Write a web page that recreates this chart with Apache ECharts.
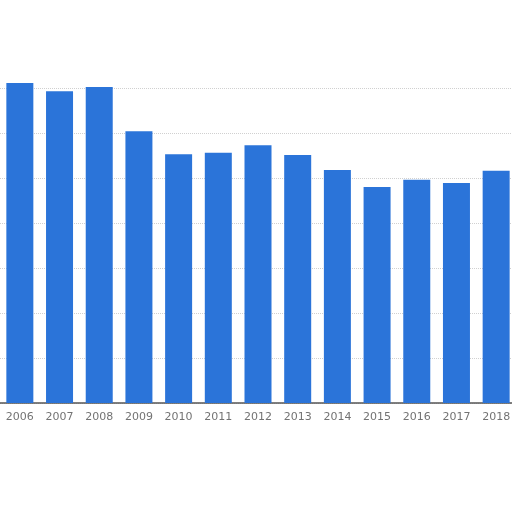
<!DOCTYPE html>
<html>
<head>
<meta charset="utf-8">
<script src="https://cdn.jsdelivr.net/npm/echarts@6/dist/echarts.min.js"></script>
<style>html,body{margin:0;padding:0;background:#fff;overflow:hidden;width:512px;height:512px}#c{width:520px;height:512px}</style>
</head>
<body>
<div id="c"></div>
<script>
const years = ['2006','2007','2008','2009','2010','2011','2012','2013','2014','2015','2016','2017','2018'];
const values = [7.11, 6.93, 7.02, 6.04, 5.53, 5.56, 5.73, 5.51, 5.18, 4.80, 4.96, 4.89, 5.16];

const chart = echarts.init(document.getElementById('c'));
chart.setOption({
  animation: false,
  backgroundColor: '#ffffff',
  grid: { left: 0, right: 4, top: 88, bottom: 109, containLabel: false },
  xAxis: {
    type: 'category',
    data: years,
    axisLine: { show: true, lineStyle: { color: '#555', width: 1.5 } },
    axisTick: { show: false },
    axisLabel: { color: '#737373', fontSize: 11, margin: 9, fontFamily: 'DejaVu Sans', interval: 0 }
  },
  yAxis: {
    type: 'value',
    min: 0,
    max: 7,
    interval: 1,
    axisLabel: { show: false },
    axisLine: { show: false },
    axisTick: { show: false },
    splitLine: { show: true, lineStyle: { color: '#d0d0d0', type: 'dotted', width: 1 } }
  },
  series: [{
    type: 'bar',
    data: values,
    barWidth: 27,
    clip: false,
    itemStyle: { color: '#2b74d9' }
  }]
});
</script>
</body>
</html>
